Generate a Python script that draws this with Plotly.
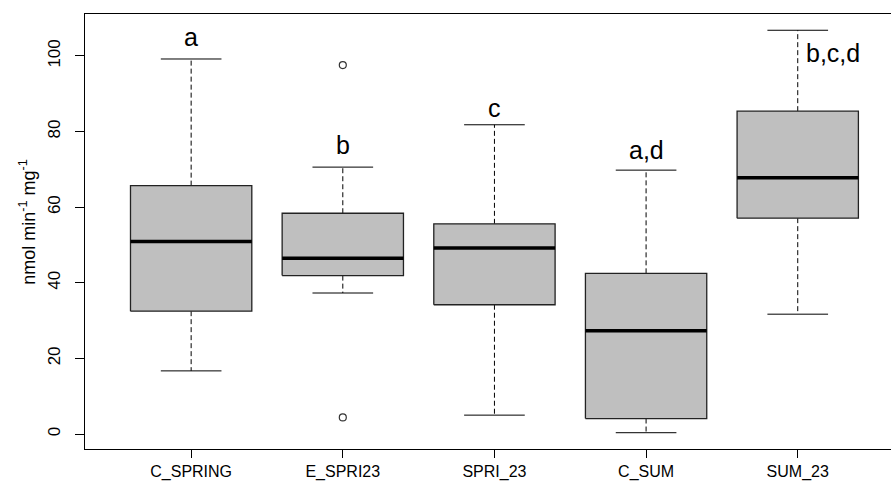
import plotly.graph_objects as go

# Five sampling groups and their box statistics (nmol min-1 mg-1)
groups = ["C_SPRING", "E_SPRI23", "SPRI_23", "C_SUM", "SUM_23"]
lower_whisker = [16.7, 37.3, 5.0, 0.35, 31.7]
q1 = [32.5, 41.9, 34.2, 4.1, 57.1]
median = [50.9, 46.5, 49.2, 27.3, 67.8]
q3 = [65.7, 58.4, 55.6, 42.5, 85.4]
upper_whisker = [99.2, 70.6, 81.8, 69.8, 106.8]

# Points beyond the whiskers
outlier_group = ["E_SPRI23", "E_SPRI23"]
outlier_value = [97.6, 4.4]

# Significance letters
letters = ["a", "b", "c", "a,d", "b,c,d"]
letter_y = [105.1, 76.5, 86.2, 75.1, 100.7]

FONT = "Liberation Sans, Arial, sans-serif"
BOX_FILL = "#bfbfbf"
BOX_W = 0.8
CAP_W = 0.4

pos = {g: i + 1 for i, g in enumerate(groups)}

fig = go.Figure()

for i, g in enumerate(groups):
    x0 = pos[g]
    # whiskers (dashed) from box edges to whisker ends
    fig.add_trace(go.Scatter(
        x=[x0, x0, None, x0, x0],
        y=[q3[i], upper_whisker[i], None, q1[i], lower_whisker[i]],
        mode="lines", line=dict(color="black", width=1, dash="5px,3px"),
        hoverinfo="skip", showlegend=False))
    # whisker caps
    fig.add_trace(go.Scatter(
        x=[x0 - CAP_W / 2, x0 + CAP_W / 2, None, x0 - CAP_W / 2, x0 + CAP_W / 2],
        y=[upper_whisker[i], upper_whisker[i], None, lower_whisker[i], lower_whisker[i]],
        mode="lines", line=dict(color="black", width=1),
        hoverinfo="skip", showlegend=False))
    # box body
    fig.add_trace(go.Scatter(
        x=[x0 - BOX_W / 2, x0 + BOX_W / 2, x0 + BOX_W / 2, x0 - BOX_W / 2, x0 - BOX_W / 2],
        y=[q1[i], q1[i], q3[i], q3[i], q1[i]],
        mode="lines", fill="toself", fillcolor=BOX_FILL,
        line=dict(color="#222222", width=1.3),
        hoverinfo="skip", showlegend=False))
    # median line
    fig.add_trace(go.Scatter(
        x=[x0 - BOX_W / 2, x0 + BOX_W / 2],
        y=[median[i], median[i]],
        mode="lines", line=dict(color="black", width=3.5),
        hoverinfo="skip", showlegend=False))

fig.add_trace(go.Scatter(
    x=[pos[g] for g in outlier_group], y=outlier_value,
    mode="markers",
    marker=dict(symbol="circle-open", size=7, color="#333333", line=dict(width=1.2)),
    hoverinfo="skip", showlegend=False))

for i, g in enumerate(groups):
    last = i == len(groups) - 1
    fig.add_annotation(
        x=pos[g] + (0.04 if last else 0), y=letter_y[i], text=letters[i],
        xanchor="left" if last else "center", yanchor="middle",
        showarrow=False, font=dict(family=FONT, size=25, color="black"))

fig.add_annotation(
    xref="paper", yref="paper", x=-57 / 806, y=0.52,
    text="nmol min<sup>-1</sup> mg<sup>-1</sup>", textangle=-90,
    xanchor="center", yanchor="middle", showarrow=False,
    font=dict(family=FONT, size=18, color="black"))

fig.update_layout(
    width=891, height=491,
    margin=dict(l=85, r=0, t=14, b=42),
    paper_bgcolor="white", plot_bgcolor="white",
    font=dict(family=FONT, color="black"),
    xaxis=dict(
        range=[0.3, 5.615], tickmode="array",
        tickvals=[pos[g] for g in groups], ticktext=groups,
        showline=True, linecolor="black", linewidth=1, mirror=True,
        ticks="outside", ticklen=8, tickcolor="black",
        showgrid=False, zeroline=False, tickfont=dict(size=16),
    ),
    yaxis=dict(
        range=[-3.96, 111.1], tickvals=[0, 20, 40, 60, 80, 100],
        showline=True, linecolor="black", linewidth=1,
        ticks="outside", ticklen=9, tickcolor="black", tickangle=-90,
        ticklabelstandoff=8,
        showgrid=False, zeroline=False, tickfont=dict(size=17),
    ),
)

fig.write_html("out.html")
